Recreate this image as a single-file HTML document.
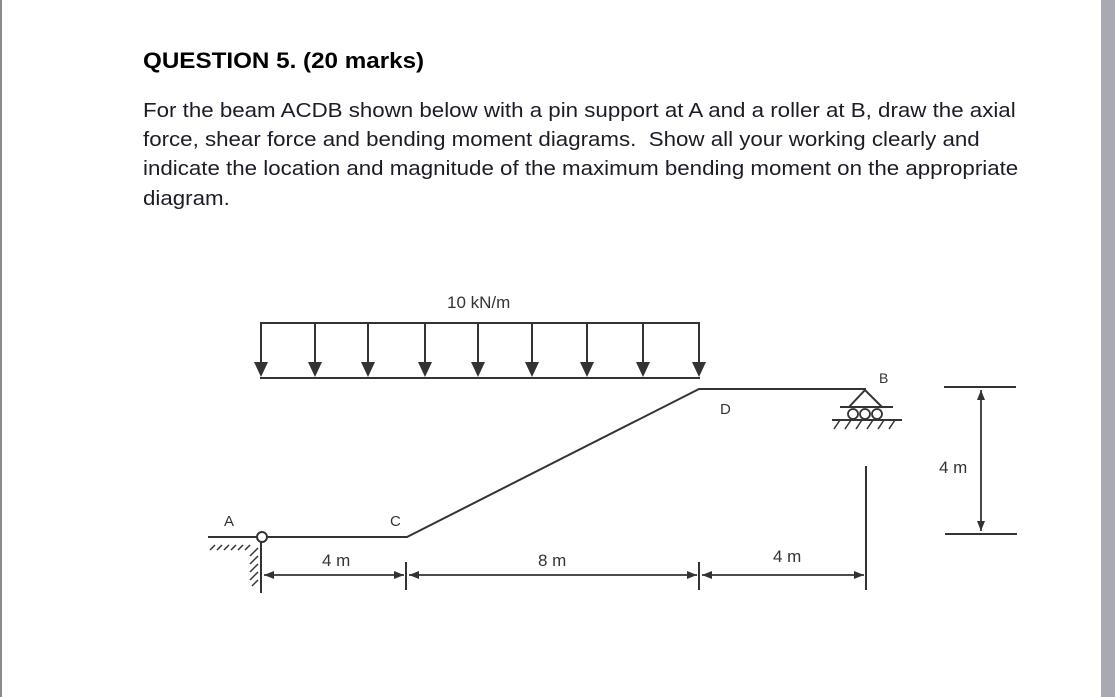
<!DOCTYPE html>
<html><head><meta charset="utf-8"><style>
html,body{margin:0;padding:0;background:#fff;}
body{width:1115px;height:697px;position:relative;overflow:hidden;font-family:"Liberation Sans",Arial,sans-serif;}
.t{position:absolute;left:143px;white-space:nowrap;color:#1c1c28;transform-origin:0 0;}
.p{font-size:20px;transform:scaleX(1.115);}
</style></head><body>
<div style="position:absolute;left:0;top:0;width:2px;height:697px;background:#8a8a8a"></div>
<div style="position:absolute;left:1101px;top:0;width:14px;height:697px;background:#a9a9b1"></div>
<div class="t" style="top:48px;font-size:22px;font-weight:bold;color:#000;transform:scaleX(1.1)">QUESTION 5. (20 marks)</div>
<div class="t p" style="top:100px">For the beam ACDB shown below with a pin support at A and a roller at B, draw the axial</div>
<div class="t p" style="top:129px">force, shear force and bending moment diagrams.&nbsp; Show all your working clearly and</div>
<div class="t p" style="top:158px">indicate the location and magnitude of the maximum bending moment on the appropriate</div>
<div class="t p" style="top:188px">diagram.</div>
<svg width="1115" height="697" style="position:absolute;left:0;top:0" font-family="Liberation Sans, Arial, sans-serif">
<defs><marker id="ah" markerWidth="10" markerHeight="8" refX="10" refY="4" orient="auto" markerUnits="userSpaceOnUse"><path d="M0,0 L10,4 L0,8 z" fill="#333"/></marker></defs>
<g stroke="#333" stroke-width="2" fill="none">
<line x1="260" y1="323" x2="700" y2="323"/>
<line x1="260" y1="378" x2="700" y2="378"/>
<polyline points="208,537 407,537 699,389 866,389"/>
<line x1="261" y1="542" x2="261" y2="593"/>
<line x1="866" y1="466" x2="866" y2="590"/>
<line x1="406" y1="562" x2="406" y2="590"/>
<line x1="699" y1="562" x2="699" y2="590"/>
<line x1="944" y1="387" x2="1016" y2="387"/>
<line x1="945" y1="534" x2="1017" y2="534"/>
<line x1="840" y1="407" x2="893" y2="407"/>
<line x1="832" y1="420" x2="902" y2="420"/>
<polyline points="849,407 865,390 882,407"/>
</g>
<g stroke="#333" stroke-width="2">
<line x1="261" y1="323" x2="261" y2="365"/><line x1="315" y1="323" x2="315" y2="365"/><line x1="368" y1="323" x2="368" y2="365"/><line x1="425" y1="323" x2="425" y2="365"/><line x1="478" y1="323" x2="478" y2="365"/><line x1="532" y1="323" x2="532" y2="365"/><line x1="587" y1="323" x2="587" y2="365"/><line x1="643" y1="323" x2="643" y2="365"/><line x1="699" y1="323" x2="699" y2="365"/>
</g>
<g fill="#333">
<path d="M254,362h14l-7,15z"/><path d="M308,362h14l-7,15z"/><path d="M361,362h14l-7,15z"/><path d="M418,362h14l-7,15z"/><path d="M471,362h14l-7,15z"/><path d="M525,362h14l-7,15z"/><path d="M580,362h14l-7,15z"/><path d="M636,362h14l-7,15z"/><path d="M692,362h14l-7,15z"/>
</g>
<g stroke="#333" stroke-width="1.8" marker-end="url(#ah)">
<line x1="335" y1="575" x2="264" y2="575"/><line x1="335" y1="575" x2="404" y2="575"/>
<line x1="550" y1="575" x2="409" y2="575"/><line x1="550" y1="575" x2="697" y2="575"/>
<line x1="780" y1="575" x2="702" y2="575"/><line x1="780" y1="575" x2="864" y2="575"/>
<line x1="981" y1="460" x2="981" y2="390"/><line x1="981" y1="460" x2="981" y2="531"/>
</g>
<g stroke="#333" stroke-width="1.5">
<line x1="215" y1="545" x2="210" y2="550"/><line x1="222" y1="545" x2="217" y2="550"/><line x1="229" y1="545" x2="224" y2="550"/><line x1="236" y1="545" x2="231" y2="550"/><line x1="243" y1="545" x2="238" y2="550"/><line x1="250" y1="545" x2="245" y2="550"/>
<line x1="258" y1="548" x2="250" y2="556"/><line x1="258" y1="556" x2="250" y2="564"/><line x1="258" y1="564" x2="250" y2="572"/><line x1="258" y1="572" x2="250" y2="580"/><line x1="258" y1="580" x2="252" y2="586"/>
<line x1="840" y1="420" x2="834" y2="429"/><line x1="851" y1="420" x2="845" y2="429"/><line x1="862" y1="420" x2="856" y2="429"/><line x1="873" y1="420" x2="867" y2="429"/><line x1="884" y1="420" x2="878" y2="429"/><line x1="895" y1="420" x2="889" y2="429"/>
</g>
<circle cx="262" cy="537" r="5" fill="#fff" stroke="#333" stroke-width="2"/>
<g fill="none" stroke="#333" stroke-width="1.8"><circle cx="853" cy="414" r="5"/><circle cx="865" cy="414" r="5"/><circle cx="877" cy="414" r="5"/></g>
<g fill="#333" font-size="17">
<text x="447" y="308">10 kN/m</text>
<text x="224" y="526" font-size="15">A</text>
<text x="390" y="526" font-size="15">C</text>
<text x="720" y="414" font-size="15">D</text>
<text x="879" y="383" font-size="14">B</text>
<text x="322" y="566">4 m</text>
<text x="538" y="566">8 m</text>
<text x="773" y="562">4 m</text>
<text x="939" y="473">4 m</text>
</g>
</svg>
</body></html>
